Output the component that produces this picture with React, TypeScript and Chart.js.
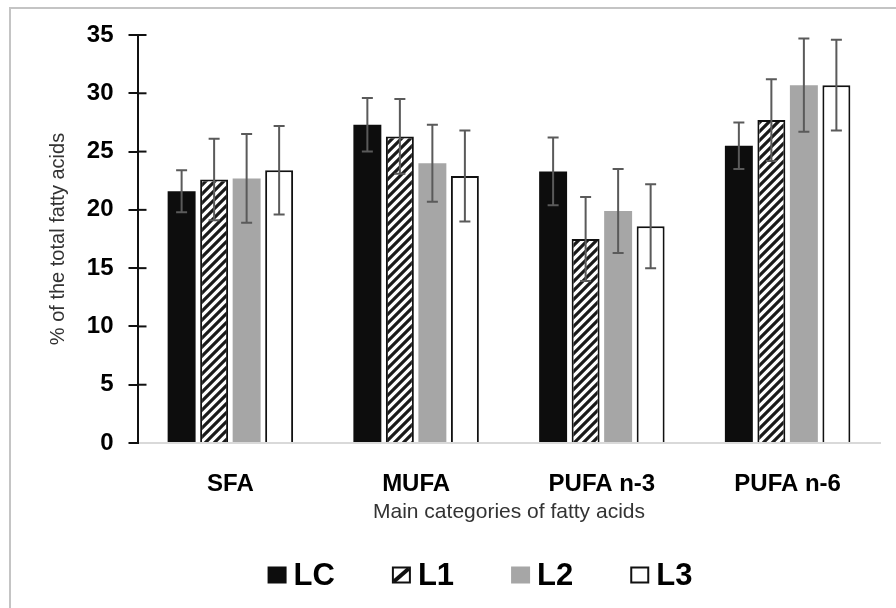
import React, { useEffect, useRef } from "react";
import { Chart, registerables } from "chart.js";

Chart.register(...registerables);

const categories = ["SFA", "MUFA", "PUFA n-3", "PUFA n-6"];
const seriesNames = ["LC", "L1", "L2", "L3"];
const LC = [21.6, 27.3, 23.3, 25.5];
const LC_err = [1.8, 2.3, 2.9, 2.0];
const L1 = [22.6, 26.3, 17.5, 27.7];
const L1_err = [3.5, 3.2, 3.6, 3.5];
const L2 = [22.7, 24.0, 19.9, 30.7];
const L2_err = [3.8, 3.3, 3.6, 4.0];
const L3 = [23.4, 22.9, 18.6, 30.7];
const L3_err = [3.8, 3.9, 3.6, 3.9];
const yTicks = [0, 5, 10, 15, 20, 25, 30, 35];

const FONT = "'Liberation Sans', Arial, sans-serif";

function makeHatch(): CanvasPattern | string {
  const c = document.createElement("canvas");
  const s = 9;
  c.width = s;
  c.height = s;
  const g = c.getContext("2d");
  if (!g) return "#fff";
  g.fillStyle = "#ffffff";
  g.fillRect(0, 0, s, s);
  g.strokeStyle = "#1a1a1a";
  g.lineWidth = 3.2;
  g.lineCap = "square";
  g.beginPath();
  g.moveTo(0, s);
  g.lineTo(s, 0);
  g.moveTo(-s / 2, s / 2);
  g.lineTo(s / 2, -s / 2);
  g.moveTo(s / 2, s + s / 2);
  g.lineTo(s + s / 2, s / 2);
  g.stroke();
  const p = g.createPattern(c, "repeat");
  return p || "#fff";
}

const errorBarPlugin = {
  id: "errorBars",
  afterDatasetsDraw(chart: any) {
    const ctx = chart.ctx;
    const yScale = chart.scales.y;
    ctx.save();
    ctx.strokeStyle = "#5a5a5a";
    ctx.lineWidth = 2;
    chart.data.datasets.forEach((ds: any, i: number) => {
      const meta = chart.getDatasetMeta(i);
      meta.data.forEach((el: any, j: number) => {
        const v = ds.data[j];
        const e = ds.errors[j];
        const yt = yScale.getPixelForValue(v + e);
        const yb = yScale.getPixelForValue(v - e);
        const x = el.x;
        ctx.beginPath();
        ctx.moveTo(x, yt);
        ctx.lineTo(x, yb);
        ctx.moveTo(x - 5.5, yt);
        ctx.lineTo(x + 5.5, yt);
        ctx.moveTo(x - 5.5, yb);
        ctx.lineTo(x + 5.5, yb);
        ctx.stroke();
      });
    });
    ctx.restore();
  },
};

const frameAndTicksPlugin = {
  id: "frameAndTicks",
  beforeDraw(chart: any) {
    const ctx = chart.ctx;
    ctx.save();
    ctx.fillStyle = "#ffffff";
    ctx.fillRect(0, 0, chart.width, chart.height);
    ctx.strokeStyle = "#c4c4c4";
    ctx.lineWidth = 2;
    ctx.beginPath();
    ctx.moveTo(10, chart.height);
    ctx.lineTo(10, 8);
    ctx.lineTo(chart.width, 8);
    ctx.stroke();
    ctx.restore();
  },
  afterDraw(chart: any) {
    const ctx = chart.ctx;
    const yScale = chart.scales.y;
    const x0 = chart.chartArea.left;
    ctx.save();
    ctx.strokeStyle = "#111111";
    ctx.lineWidth = 2;
    yScale.ticks.forEach((t: any) => {
      if (t.value === 0) return;
      const y = yScale.getPixelForValue(t.value);
      ctx.beginPath();
      ctx.moveTo(x0, y);
      ctx.lineTo(x0 + 9, y);
      ctx.stroke();
    });
    ctx.restore();
  },
};

const legendPlugin = {
  id: "customLegend",
  afterDraw(chart: any) {
    const ctx = chart.ctx;
    const ds = chart.data.datasets;
    const box = 19;
    const boxH = 17;
    const gap = 7;
    const itemGap = 57;
    ctx.save();
    ctx.font = `bold 31px ${FONT}`;
    ctx.textBaseline = "middle";
    ctx.textAlign = "left";
    const widths = ds.map((d: any) => box + gap + ctx.measureText(d.label).width);
    const total = widths.reduce((a: number, b: number) => a + b, 0) + itemGap * (ds.length - 1);
    const area = chart.chartArea;
    const cx = (area.left + area.right) / 2 - 29;
    const cy = 575;
    let x = cx - total / 2;
    ds.forEach((d: any, i: number) => {
      const bx = x;
      const by = cy - boxH / 2;
      if (i === 0) {
        ctx.fillStyle = "#0d0d0d";
        ctx.fillRect(bx, by, box, boxH);
      } else if (i === 1) {
        ctx.fillStyle = "#ffffff";
        ctx.fillRect(bx, by, box, boxH);
        ctx.strokeStyle = "#111111";
        ctx.lineWidth = 4;
        ctx.beginPath();
        ctx.moveTo(bx + 2, by + boxH - 2);
        ctx.lineTo(bx + box - 2, by + 2);
        ctx.stroke();
        ctx.lineWidth = 2;
        ctx.strokeRect(bx + 1, by + 1, box - 2, boxH - 2);
      } else if (i === 2) {
        ctx.fillStyle = "#a6a6a6";
        ctx.fillRect(bx, by, box, boxH);
      } else {
        ctx.fillStyle = "#ffffff";
        ctx.fillRect(bx, by, box, boxH);
        ctx.strokeStyle = "#111111";
        ctx.lineWidth = 2;
        ctx.strokeRect(bx + 1, by + 1, box - 2, boxH - 2);
      }
      ctx.fillStyle = "#000000";
      ctx.fillText(d.label, bx + box + gap, cy + 1);
      x += widths[i] + itemGap;
    });
    ctx.restore();
  },
};

export default function App() {
  const ref = useRef<HTMLCanvasElement | null>(null);

  useEffect(() => {
    if (!ref.current) return;
    const hatch = makeHatch();
    const values = [LC, L1, L2, L3];
    const errs = [LC_err, L1_err, L2_err, L3_err];
    const fills: any[] = ["#0d0d0d", hatch, "#a6a6a6", "#ffffff"];
    const borders = [0, 2, 0, 2];
    const datasets = seriesNames.map((name, i) => ({
      label: name,
      data: values[i],
      errors: errs[i],
      backgroundColor: fills[i],
      borderColor: "#111111",
      borderWidth: borders[i],
      borderSkipped: "start",
      categoryPercentage: 0.7,
      barPercentage: 0.86,
    }));

    const chart = new Chart(ref.current, {
      type: "bar",
      data: { labels: categories, datasets: datasets as any },
      plugins: [frameAndTicksPlugin, errorBarPlugin, legendPlugin],
      options: {
        animation: false,
        responsive: false,
        maintainAspectRatio: false,
        devicePixelRatio: 1,
        layout: { padding: { left: 10, top: 35, right: 15.5, bottom: 83 } },
        plugins: {
          legend: { display: false },
          tooltip: { enabled: false },
        },
        scales: {
          x: {
            grid: { display: false },
            border: { display: true, color: "#d9d9d9", width: 2 },
            ticks: {
              color: "#000000",
              font: { family: FONT, size: 24, weight: "bold" },
              padding: 19,
              maxRotation: 0,
            },
            title: {
              display: true,
              text: "Main categories of fatty acids",
              color: "#333333",
              font: { family: FONT, size: 21 },
              padding: { top: 0, bottom: 0 },
            },
            afterFit(scale: any) {
              scale.height = 82;
            },
          },
          y: {
            min: 0,
            max: 35,
            afterBuildTicks(scale: any) {
              scale.ticks = yTicks.map((v) => ({ value: v }));
            },
            grid: {
              display: true,
              drawOnChartArea: false,
              drawTicks: true,
              tickLength: 9,
              color: "#111111",
              lineWidth: 2,
            },
            border: { display: true, color: "#111111", width: 2 },
            ticks: {
              color: "#000000",
              font: { family: FONT, size: 24, weight: "bold" },
              padding: 15,
            },
            title: {
              display: true,
              text: "% of the total fatty acids",
              color: "#333333",
              font: { family: FONT, size: 20 },
              padding: { top: 36, bottom: 0 },
            },
            afterFit(scale: any) {
              scale.width = 127.5;
            },
          },
        },
      } as any,
    });
    return () => chart.destroy();
  }, []);

  return (
    <div style={{ position: "fixed", left: 0, top: 0, width: 896, height: 608, background: "#fff" }}>
      <canvas ref={ref} width={896} height={608} style={{ display: "block" }} />
    </div>
  );
}
